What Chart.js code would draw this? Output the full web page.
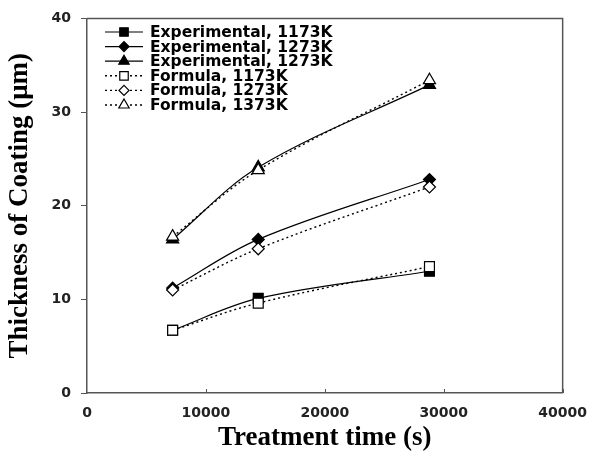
<!DOCTYPE html>
<html>
<head>
<meta charset="utf-8">
<script src="https://cdn.jsdelivr.net/npm/chart.js@4/dist/chart.umd.min.js"></script>
<style>
  html, body { margin: 0; padding: 0; background: #fff; }
  #wrap { width: 599px; height: 457px; }
</style>
</head>
<body>
<div id="wrap"><canvas id="chart" width="599" height="457"></canvas></div>
<script>
// treatment times (s)
const times = [7200, 14400, 28800];

// measured coating thickness (um)
const exp1173 = [6.7, 10.1, 13.0];
const exp1273 = [11.2, 16.4, 22.8];
const exp1373 = [16.4, 24.1, 32.9];

// thickness from the growth formula (um)
const form1173 = [6.7, 9.6, 13.5];
const form1273 = [11.0, 15.4, 22.0];
const form1373 = [16.7, 23.8, 33.4];

const seriesLabels = [
  "Experimental, 1173K",
  "Experimental, 1273K",
  "Experimental, 1273K",
  "Formula, 1173K",
  "Formula, 1273K",
  "Formula, 1373K"
];

const xTicks = [0, 10000, 20000, 30000, 40000];
const yTicks = [0, 10, 20, 30, 40];

const axisColor = "#555";
const tickFont = { family: "DejaVu Sans", weight: "bold", size: 14 };
const titleFont = { family: "Liberation Serif", weight: "bold", size: 27 };

function pts(ys) {
  return times.map((t, i) => ({ x: t, y: ys[i] }));
}

function series(label, ys, shape, radius, filled) {
  return {
    label: label,
    data: pts(ys),
    borderColor: "#000",
    borderWidth: filled ? 1.2 : 1.4,
    borderDash: filled ? [] : [2, 3],
    pointStyle: shape,
    pointRadius: radius,
    pointBorderWidth: 1.2,
    pointBorderColor: "#000",
    pointBackgroundColor: filled ? "#000" : "#fff",
    tension: 0.35,
    fill: false,
    order: filled ? 1 : 0
  };
}

const datasets = [
  series(seriesLabels[0], exp1173, "rect", 7, true),
  series(seriesLabels[1], exp1273, "rectRot", 6, true),
  series(seriesLabels[2], exp1373, "triangle", 7, true),
  series(seriesLabels[3], form1173, "rect", 7, false),
  series(seriesLabels[4], form1273, "rectRot", 6, false),
  series(seriesLabels[5], form1373, "triangle", 7, false)
];

// top/right frame plus the short inward ticks on the x axis
const framePlugin = {
  id: "frame",
  afterDraw(chart) {
    const { ctx, chartArea: a, scales } = chart;
    ctx.save();
    ctx.strokeStyle = axisColor;
    ctx.lineWidth = 1.5;
    ctx.beginPath();
    ctx.moveTo(a.left, a.top);
    ctx.lineTo(a.right, a.top);
    ctx.lineTo(a.right, a.bottom);
    ctx.stroke();
    ctx.lineWidth = 1;
    xTicks.slice(1).forEach(v => {
      const px = Math.round(scales.x.getPixelForValue(v)) + 0.5;
      ctx.beginPath();
      ctx.moveTo(px, a.bottom);
      ctx.lineTo(px, a.bottom - 4);
      ctx.stroke();
    });
    ctx.restore();
  }
};

// legend drawn inside the plot, top-left
const legendPlugin = {
  id: "insideLegend",
  afterDraw(chart) {
    const ctx = chart.ctx;
    const x0 = 105, x1 = 143, textX = 150;
    let y = 32;
    ctx.save();
    ctx.font = "bold 15.5px 'DejaVu Sans'";
    ctx.textBaseline = "middle";
    ctx.fillStyle = "#000";
    chart.data.datasets.forEach(ds => {
      ctx.strokeStyle = "#000";
      ctx.lineWidth = ds.borderWidth;
      ctx.setLineDash(ds.borderDash);
      ctx.beginPath();
      ctx.moveTo(x0, y);
      ctx.lineTo(x1, y);
      ctx.stroke();
      ctx.setLineDash([]);
      ctx.fillStyle = ds.pointBackgroundColor;
      ctx.lineWidth = ds.pointBorderWidth;
      Chart.helpers.drawPoint(ctx, {
        pointStyle: ds.pointStyle,
        radius: ds.pointRadius - 1,
        borderWidth: ds.pointBorderWidth,
        rotation: 0
      }, (x0 + x1) / 2, y);
      ctx.fillStyle = "#000";
      ctx.fillText(ds.label, textX, y + 1);
      y += 14.6;
    });
    ctx.restore();
  }
};

new Chart(document.getElementById("chart"), {
  type: "line",
  data: { datasets: datasets },
  options: {
    responsive: false,
    animation: false,
    layout: { padding: { top: 18, right: 26, left: 0, bottom: 0 } },
    plugins: {
      legend: { display: false },
      tooltip: { enabled: false }
    },
    scales: {
      x: {
        type: "linear",
        min: 0,
        max: 40000,
        afterBuildTicks: s => { s.ticks = xTicks.map(v => ({ value: v })); },
        afterFit: s => { s.height = 64; },
        border: { color: axisColor, width: 1.5 },
        grid: { drawOnChartArea: false, drawTicks: false },
        ticks: {
          font: tickFont,
          color: "#222",
          padding: 12,
          maxRotation: 0,
          callback: v => String(v)
        },
        title: {
          display: true,
          text: "Treatment time (s)",
          font: titleFont,
          color: "#000",
          padding: { top: 0, bottom: 3 }
        }
      },
      y: {
        min: 0,
        max: 40,
        afterBuildTicks: s => { s.ticks = yTicks.map(v => ({ value: v })); },
        afterFit: s => { s.width = 87; },
        border: { color: axisColor, width: 1.5 },
        grid: { drawOnChartArea: false, drawTicks: true, tickLength: 6, color: axisColor },
        ticks: {
          font: tickFont,
          color: "#222",
          padding: 10,
          callback: v => String(v)
        },
        title: {
          display: true,
          text: "Thickness of Coating (μm)",
          font: titleFont,
          color: "#000",
          padding: { top: 4, bottom: 4 }
        }
      }
    }
  },
  plugins: [framePlugin, legendPlugin]
});
</script>
</body>
</html>
